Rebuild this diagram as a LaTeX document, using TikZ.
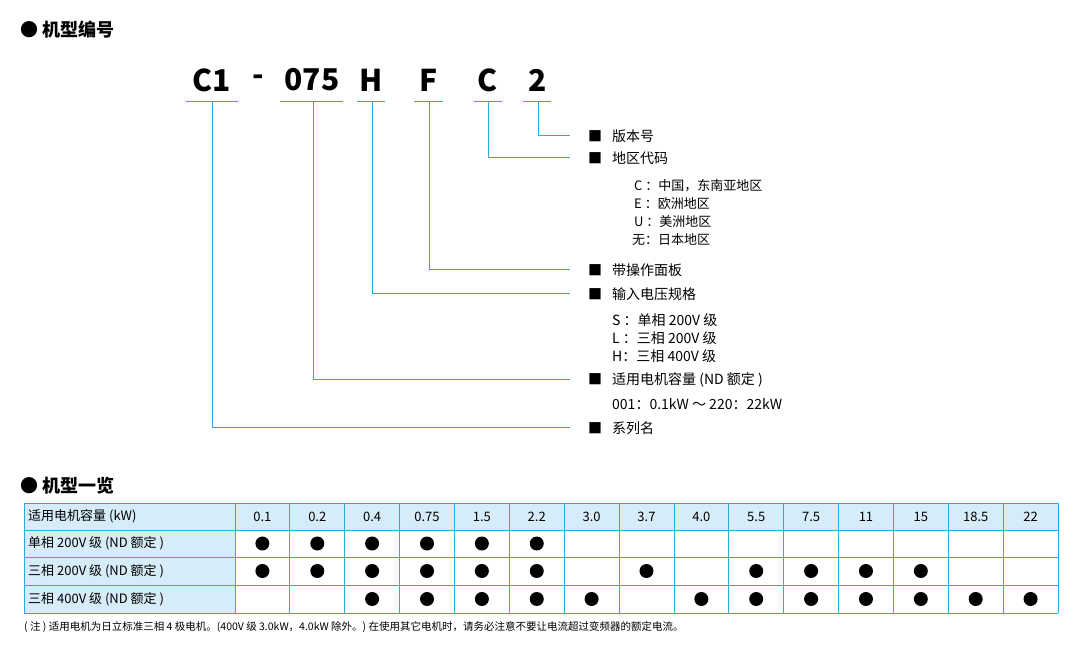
\documentclass[tikz,border=0pt]{standalone}
\usepackage{fontspec}
\setmainfont{Noto Sans CJK SC}
\newfontfamily\boldcjk[FakeBold=0]{Noto Sans CJK SC Bold}
\begin{document}
\begin{tikzpicture}[x=1pt,y=-1pt,
  ln/.style={draw=lblue,line width=1pt},
  lab/.style={anchor=west,font=\fontsize{14}{14}\selectfont,inner sep=0},
  sub/.style={anchor=west,font=\fontsize{13}{13}\selectfont,inner sep=0},
  code/.style={font=\fontsize{30}{30}\selectfont\bfseries,inner sep=0},
  cell/.style={font=\fontsize{13}{13}\selectfont,inner sep=0},
  dot/.style={circle,fill=black,minimum size=14pt,inner sep=0}]
\definecolor{lblue}{RGB}{41,171,226}
\definecolor{hfill}{RGB}{214,236,248}
\path[use as bounding box] (0,0) rectangle (1080,652);
\node[anchor=west,inner sep=0,font=\fontsize{18}{18}\selectfont\bfseries] (t1) at (20,30) {● 机型编号};
\node[anchor=west,inner sep=0,font=\fontsize{18}{18}\selectfont\bfseries] (t2) at (20,486) {● 机型一览};
% codes
\foreach \n/\x/\t in {c1/212/C1,dash/258/-,n075/312/075,h/371/H,f/429/F,c/488/C,v/538/2}
  \node[code] (\n) at (\x,80) {\t};
\foreach \a/\b/\x/\y/\n in {186/238/212/428/a,280/343/313/380/b,357/385/372/294/c,414/443/429/270/d,474/502/488/158/e,523/551/538/136/f}{
  \draw[ln] (\a,102) -- (\b,102);
  \coordinate (s\n) at (\x,102);
  \coordinate (e\n) at (570,\y);
  \draw[ln] (s\n) |- (e\n);
}
\foreach \y/\t/\n in {136/版本号/l1,158/地区代码/l2,270/带操作面板/l3,294/输入电压规格/l4,380/适用电机容量 (ND 额定 )/l5,428/系列名/l6}{
  \node[lab] (\n) at (588,\y) {■\hspace{10pt}\t};
}
\node[sub] (r1) at (634,186) {C ：中国，东南亚地区};
\node[sub] (r2) at (634,204) {E ：欧洲地区};
\node[sub] (r3) at (634,222) {U ：美洲地区};
\node[sub] (r4) at (632,240) {无：日本地区};
\node[lab] (r5) at (612,320) {S ：单相 200V 级};
\node[lab] (r6) at (612,338) {L ：三相 200V 级};
\node[lab] (r7) at (612,356) {H：三相 400V 级};
\node[lab] (r8) at (612,404) {001：0.1kW ～ 220：22kW};
% table
\fill[hfill] (24,503) rectangle (1058,530);
\fill[hfill] (24,530) rectangle (235,613);
\foreach \y in {503,530,557,585,613} \draw[lblue,line width=0.8pt] (24,\y) -- (1058,\y);
\draw[lblue,line width=0.8pt] (24,503) -- (24,613);
\foreach \i in {0,...,15} \draw[lblue,line width=0.8pt] ({235+\i*54.87},503) -- ({235+\i*54.87},613);
\node[cell,anchor=west] (h0) at (28,516.5) {适用电机容量 (kW)};
\node[cell,anchor=west] (h1) at (28,543.5) {单相 200V 级 (ND 额定 )};
\node[cell,anchor=west] (h2) at (28,571) {三相 200V 级 (ND 额定 )};
\node[cell,anchor=west] (h3) at (28,599) {三相 400V 级 (ND 额定 )};
\foreach \t [count=\i from 0] in {0.1,0.2,0.4,0.75,1.5,2.2,3.0,3.7,4.0,5.5,7.5,11,15,18.5,22}
  \node[cell] (k\i) at ({262.4+\i*54.87},516.5) {\t};
\foreach \i in {0,...,5} \node[dot] (da\i) at ({262.4+\i*54.87},543.5) {};
\foreach \i in {0,1,2,3,4,5,7,9,10,11,12} \node[dot] (db\i) at ({262.4+\i*54.87},571) {};
\foreach \i in {2,3,4,5,6,8,9,10,11,12,13,14} \node[dot] (dc\i) at ({262.4+\i*54.87},599) {};
\node[anchor=west,inner sep=0,font=\fontsize{10.5}{10.5}\selectfont] (note) at (24,627) {( 注 ) 适用电机为日立标准三相 4 极电机。(400V 级 3.0kW，4.0kW 除外。) 在使用其它电机时，请务必注意不要让电流超过变频器的额定电流。};
\end{tikzpicture}
\end{document}
